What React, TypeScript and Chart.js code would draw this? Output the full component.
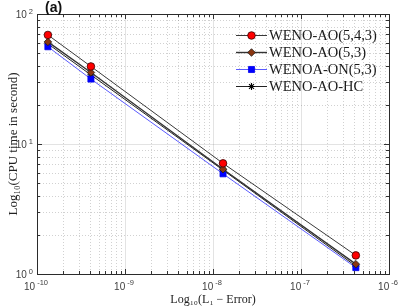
import React, { useEffect, useRef } from 'react';
import { Chart, registerables } from 'chart.js';
import { drawPoint } from 'chart.js/helpers';

Chart.register(...registerables);

// ---- data ----
const errorL1 = [1.33e-10, 4.1e-10, 1.3e-8, 4.2e-7];
const cpuAO543 = [69, 39.5, 7.1, 1.39];
const cpuAO53 = [61, 35.5, 6.4, 1.19];
const cpuAON53 = [56, 31.6, 5.9, 1.12];
const cpuAOHC = [59, 34, 6.3, 1.15];
const seriesLabels = ['WENO-AO(5,4,3)', 'WENO-AO(5,3)', 'WENOA-ON(5,3)', 'WENO-AO-HC'];
const xTickValues = [1e-10, 1e-9, 1e-8, 1e-7, 1e-6];
const yTickValues = [1, 10, 100];
const panelTitle = '(a)';
const xTitle = 'Log₁₀(L₁ − Error)';
const yTitle = 'Log₁₀(CPU time in second)';

const SANS = '"Liberation Sans", Arial, Helvetica, sans-serif';
const SERIF = '"Liberation Serif", "Times New Roman", serif';

const logGrid = (min: number, max: number) => {
  const out: { v: number; major: boolean }[] = [];
  const e0 = Math.floor(Math.log10(min) + 1e-9);
  const e1 = Math.ceil(Math.log10(max) - 1e-9);
  for (let e = e0; e <= e1; e++) {
    for (let k = 1; k <= 9; k++) {
      const v = k * Math.pow(10, e);
      if (v >= min * 0.999999 && v <= max * 1.000001) out.push({ v, major: k === 1 });
    }
  }
  return out;
};

const expOf = (v: number) => String(Math.round(Math.log10(v)));

const framePlugin = {
  id: 'frame',
  beforeDatasetsDraw(chart: any) {
    const { ctx, chartArea: a, scales } = chart;
    const x = scales.x, y = scales.y;
    ctx.save();
    ctx.lineWidth = 1;
    for (const g of logGrid(x.min, x.max)) {
      const px = Math.round(x.getPixelForValue(g.v)) + 0.5;
      if (px <= a.left + 1 || px >= a.right - 1) continue;
      ctx.setLineDash(g.major ? [] : [1, 2]);
      ctx.strokeStyle = g.major ? 'rgba(0,0,0,0.11)' : 'rgba(0,0,0,0.18)';
      ctx.beginPath(); ctx.moveTo(px, a.top); ctx.lineTo(px, a.bottom); ctx.stroke();
    }
    for (const g of logGrid(y.min, y.max)) {
      const py = Math.round(y.getPixelForValue(g.v)) + 0.5;
      if (py <= a.top + 1 || py >= a.bottom - 1) continue;
      ctx.setLineDash(g.major ? [] : [1, 2]);
      ctx.strokeStyle = g.major ? 'rgba(0,0,0,0.11)' : 'rgba(0,0,0,0.18)';
      ctx.beginPath(); ctx.moveTo(a.left, py); ctx.lineTo(a.right, py); ctx.stroke();
    }
    ctx.restore();
  },
  afterDatasetsDraw(chart: any) {
    const { ctx, chartArea: a, scales } = chart;
    const x = scales.x, y = scales.y;
    ctx.save();
    ctx.setLineDash([]);
    ctx.strokeStyle = '#333';
    ctx.lineWidth = 1;
    for (const g of logGrid(x.min, x.max)) {
      const px = Math.round(x.getPixelForValue(g.v)) + 0.5;
      const L = g.major ? 5 : 3;
      ctx.beginPath();
      ctx.moveTo(px, a.bottom); ctx.lineTo(px, a.bottom - L);
      ctx.moveTo(px, a.top); ctx.lineTo(px, a.top + L);
      ctx.stroke();
    }
    for (const g of logGrid(y.min, y.max)) {
      const py = Math.round(y.getPixelForValue(g.v)) + 0.5;
      const L = g.major ? 5 : 3;
      ctx.beginPath();
      ctx.moveTo(a.left, py); ctx.lineTo(a.left + L, py);
      ctx.moveTo(a.right, py); ctx.lineTo(a.right - L, py);
      ctx.stroke();
    }
    ctx.strokeStyle = '#2b2b2b';
    ctx.strokeRect(Math.round(a.left) + 0.5, Math.round(a.top) + 0.5,
      Math.round(a.right - a.left), Math.round(a.bottom - a.top));
    ctx.restore();
  },
  afterDraw(chart: any) {
    const { ctx, chartArea: a, scales } = chart;
    const x = scales.x, y = scales.y;
    ctx.save();
    ctx.textBaseline = 'middle';
    ctx.fillStyle = '#404040';
    const baseFont = `10px ${SANS}`;
    const expFont = `7.5px ${SANS}`;
    // x tick labels (10 with raised exponent)
    for (const v of xTickValues) {
      const px = x.getPixelForValue(v);
      const e = expOf(v);
      ctx.font = baseFont; const wb = ctx.measureText('10').width;
      ctx.font = expFont; const we = ctx.measureText(e).width;
      const gap = 2;
      const start = px - (wb + gap + we) / 2 - 1;
      ctx.textAlign = 'left';
      ctx.font = baseFont; ctx.fillText('10', start, a.bottom + 13.5);
      ctx.font = expFont; ctx.fillText(e, start + wb + gap, a.bottom + 8.5);
    }
    // y tick labels
    for (const v of yTickValues) {
      const py = y.getPixelForValue(v);
      const e = expOf(v);
      ctx.font = expFont; const we = ctx.measureText(e).width;
      ctx.font = baseFont; const wb = ctx.measureText('10').width;
      const gap = 2;
      const right = a.left - 4;
      ctx.textAlign = 'left';
      ctx.font = expFont; ctx.fillText(e, right - we, py - 2.5);
      ctx.font = baseFont; ctx.fillText('10', right - we - gap - wb, py + 1.5);
    }
    // panel title
    ctx.fillStyle = '#111';
    ctx.font = `bold 14px ${SANS}`;
    ctx.textAlign = 'left';
    ctx.fillText(panelTitle, a.left + 8, 8.5);
    // legend
    const lx0 = a.right - 153, lx1 = a.right - 122;
    chart.data.datasets.forEach((ds: any, i: number) => {
      const cy = a.top + 21 + i * 17;
      ctx.setLineDash([]);
      ctx.strokeStyle = ds.borderColor;
      ctx.lineWidth = ds.borderWidth;
      ctx.beginPath(); ctx.moveTo(lx0, cy + 0.5); ctx.lineTo(lx1, cy + 0.5); ctx.stroke();
      ctx.fillStyle = ds.pointBackgroundColor;
      ctx.strokeStyle = ds.pointBorderColor;
      ctx.lineWidth = ds.pointBorderWidth;
      drawPoint(ctx, { pointStyle: ds.pointStyle, radius: ds.pointRadius, rotation: 0, borderWidth: ds.pointBorderWidth }, (lx0 + lx1) / 2, cy + 0.5);
      ctx.fillStyle = '#1a1a1a';
      ctx.font = `14.5px ${SERIF}`;
      ctx.textAlign = 'left';
      ctx.fillText(ds.label, lx1 + 2, cy + 1);
    });
    ctx.restore();
  },
};

const mk = (xs: number[], ys: number[]) => xs.map((v, i) => ({ x: v, y: ys[i] }));

export default function App() {
  const ref = useRef<HTMLCanvasElement | null>(null);
  useEffect(() => {
    if (!ref.current) return;
    const chart = new Chart(ref.current, {
      type: 'scatter',
      data: {
        datasets: [
          {
            label: seriesLabels[0], data: mk(errorL1, cpuAO543), showLine: true,
            borderColor: '#3a3a3a', borderWidth: 1,
            pointStyle: 'circle', pointRadius: 3.8, pointBackgroundColor: '#ff0000',
            pointBorderColor: '#3a0000', pointBorderWidth: 0.8,
          },
          {
            label: seriesLabels[1], data: mk(errorL1, cpuAO53), showLine: true,
            borderColor: '#333333', borderWidth: 1.4,
            pointStyle: 'rectRot', pointRadius: 3.8, pointBackgroundColor: '#8a3510',
            pointBorderColor: '#1a1a1a', pointBorderWidth: 0.8,
          },
          {
            label: seriesLabels[2], data: mk(errorL1, cpuAON53), showLine: true,
            borderColor: '#5a5aff', borderWidth: 1,
            pointStyle: 'rect', pointRadius: 4.3, pointBackgroundColor: '#0000ff',
            pointBorderColor: '#0000ee', pointBorderWidth: 0.8,
          },
          {
            label: seriesLabels[3], data: mk(errorL1, cpuAOHC), showLine: true,
            borderColor: '#222222', borderWidth: 1,
            pointStyle: 'star', pointRadius: 3.5, pointBackgroundColor: '#000000',
            pointBorderColor: '#000000', pointBorderWidth: 1.1,
          },
        ],
      },
      options: {
        animation: false,
        responsive: false,
        layout: { padding: { top: 14, right: 10, left: 0, bottom: 0 } },
        plugins: { legend: { display: false }, tooltip: { enabled: false } },
        scales: {
          x: {
            type: 'logarithmic', min: xTickValues[0], max: xTickValues[xTickValues.length - 1],
            afterBuildTicks: (s: any) => { s.ticks = xTickValues.map((v) => ({ value: v })); },
            afterFit: (s: any) => { s.height = 33; },
            grid: { display: false, drawTicks: false },
            border: { display: false },
            ticks: { display: false },
            title: {
              display: true, text: xTitle, color: '#222',
              font: { family: SERIF, size: 12 },
              padding: { top: 0, bottom: 0 },
            },
          },
          y: {
            type: 'logarithmic', min: yTickValues[0], max: yTickValues[yTickValues.length - 1],
            afterBuildTicks: (s: any) => { s.ticks = yTickValues.map((v) => ({ value: v })); },
            afterFit: (s: any) => { s.width = 37; },
            grid: { display: false, drawTicks: false },
            border: { display: false },
            ticks: { display: false },
            title: {
              display: true, text: yTitle, color: '#222',
              font: { family: SERIF, size: 13 },
              padding: { top: 6, bottom: 0 },
            },
          },
        },
      },
      plugins: [framePlugin],
    } as any);
    return () => chart.destroy();
  }, []);
  return (
    <div style={{ position: 'absolute', left: 0, top: 0, width: 399, height: 307, background: '#fff' }}>
      <canvas ref={ref} width={399} height={307} style={{ display: 'block' }} />
    </div>
  );
}
